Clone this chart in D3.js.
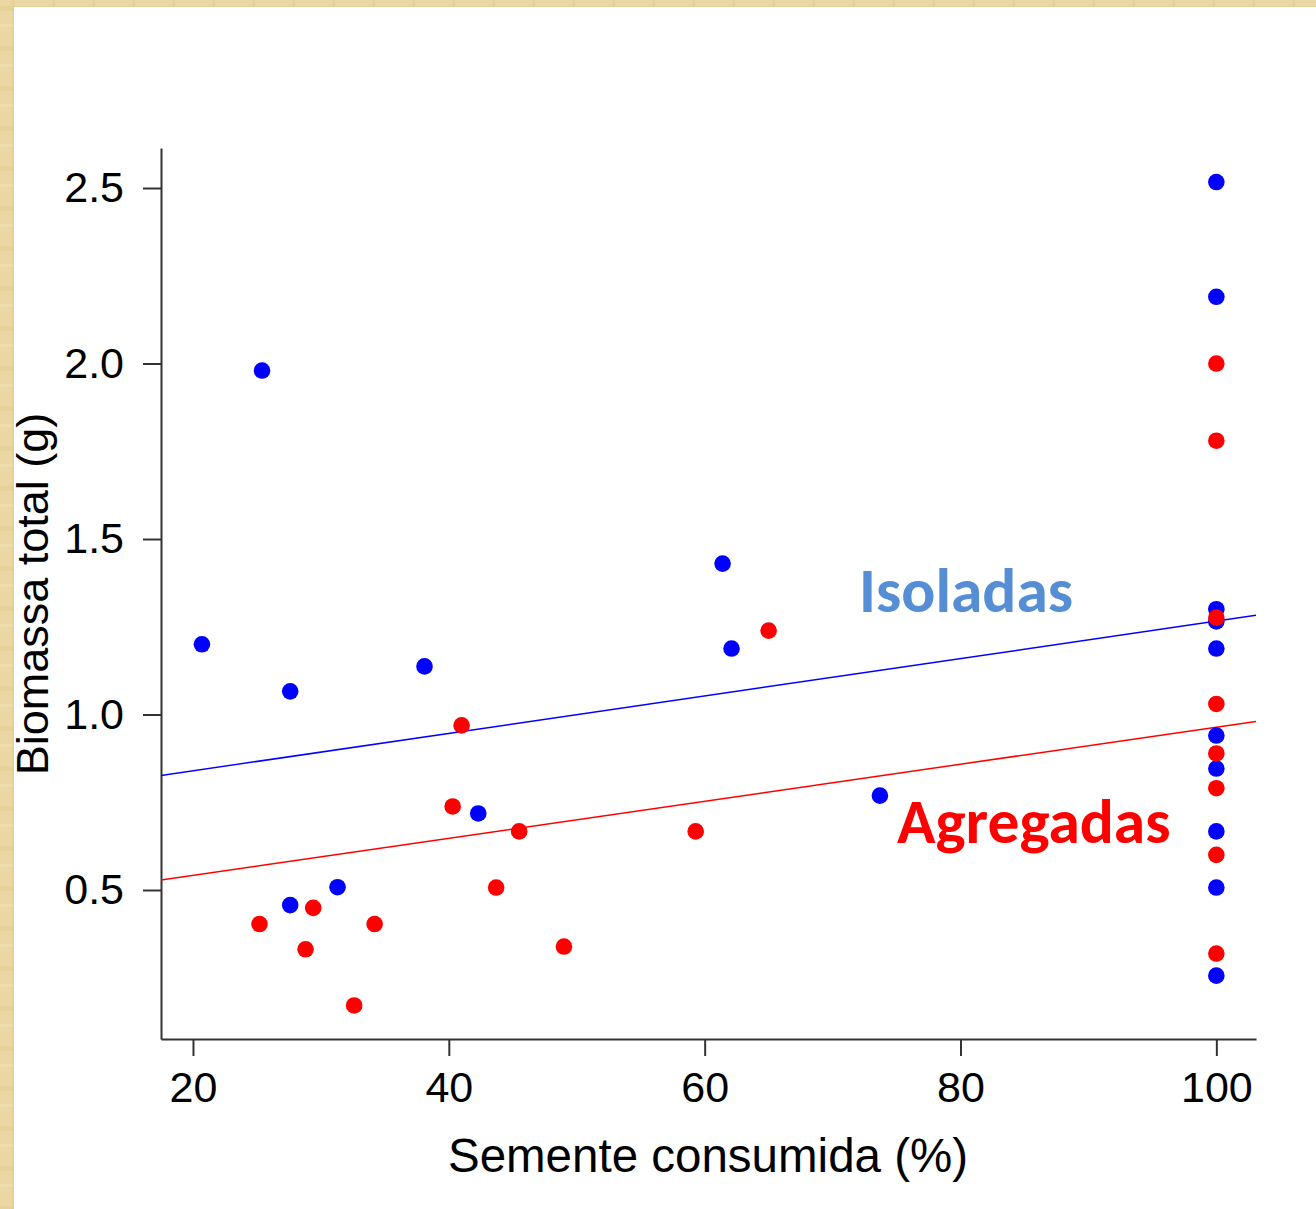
<!DOCTYPE html>
<html>
<head>
<meta charset="utf-8">
<script src="https://cdn.jsdelivr.net/npm/d3@7"></script>
<style>
  html, body { margin: 0; padding: 0; background: #e9d6a2; }
  svg { display: block; }
</style>
</head>
<body>
<svg id="chart" width="1316" height="1209"></svg>
<script>
// ---- Data ----
const isoladasX = [25.4, 20.7, 27.6, 38.1, 27.6, 31.3, 42.3, 61.4, 62.1, 73.7,
                   100, 100, 100, 100, 100, 100, 100, 100, 100, 100];
const isoladasY = [1.98, 1.20, 1.066, 1.137, 0.457, 0.508, 0.718, 1.43, 1.188, 0.769,
                   2.517, 2.19, 1.30, 1.265, 1.188, 0.94, 0.846, 0.667, 0.507, 0.256];
const agregadasX = [25.2, 28.8, 29.4, 32.6, 34.2, 40.3, 41.0, 43.7, 45.5, 49.0, 59.3, 65.0,
                    100, 100, 100, 100, 100, 100, 100, 100];
const agregadasY = [0.403, 0.331, 0.449, 0.171, 0.403, 0.738, 0.969, 0.507, 0.667, 0.339, 0.667, 1.239,
                    2.0, 1.78, 1.276, 1.03, 0.889, 0.79, 0.60, 0.319];
// regression lines: [intercept, slope]
const isoladasFit = [0.733, 0.00533];
const agregadasFit = [0.436, 0.00528];
const xTicks = [20, 40, 60, 80, 100];
const yTicks = [0.5, 1.0, 1.5, 2.0, 2.5];
const xTitle = "Semente consumida (%)";
const yTitle = "Biomassa total (g)";
const labelIsoladas = "Isoladas";
const labelAgregadas = "Agregadas";

(function () {
// ---- Layout ----
const svg = d3.select("#chart");
const W = 1316, H = 1209;
const mLeft = 161, mRight = 1256, mTop = 148, mBottom = 1039;

// parchment background + white panel
const defs = svg.append("defs");
const pat = defs.append("pattern").attr("id", "parch").attr("patternUnits", "userSpaceOnUse")
  .attr("width", 40).attr("height", 40);
pat.append("rect").attr("width", 40).attr("height", 40).attr("fill", "#ead7a3");
pat.append("rect").attr("x", 0).attr("y", 6).attr("width", 40).attr("height", 5).attr("fill", "#e3cd92").attr("opacity", 0.6);
pat.append("rect").attr("x", 0).attr("y", 24).attr("width", 40).attr("height", 3).attr("fill", "#f0e0b2").attr("opacity", 0.7);
pat.append("rect").attr("x", 12).attr("y", 0).attr("width", 3).attr("height", 40).attr("fill", "#e0c98f").attr("opacity", 0.4);
svg.append("rect").attr("width", W).attr("height", H).attr("fill", "url(#parch)");
svg.append("rect").attr("x", 14).attr("y", 7).attr("width", W - 14).attr("height", H - 7).attr("fill", "#ffffff");

const x = d3.scaleLinear().domain([17.5, 103.1]).range([mLeft, mRight]);
const y = d3.scaleLinear().domain([0.0755, 2.614]).range([mBottom, mTop]);

defs.append("clipPath").attr("id", "plotclip").append("rect")
  .attr("x", mLeft).attr("y", mTop).attr("width", mRight - mLeft).attr("height", mBottom - mTop);

// ---- Axes ----
const axisColor = "#333";
const font = "'Liberation Sans', Arial, sans-serif";

const xAxis = svg.append("g").attr("transform", `translate(0,${mBottom})`)
  .call(d3.axisBottom(x).tickValues(xTicks).tickSize(17).tickSizeOuter(0).tickPadding(15).tickFormat(d3.format("d")));
const yAxis = svg.append("g").attr("transform", `translate(${mLeft},0)`)
  .call(d3.axisLeft(y).tickValues(yTicks).tickSize(18).tickSizeOuter(0).tickPadding(19).tickFormat(d3.format(".1f")));

[xAxis, yAxis].forEach(g => {
  g.select(".domain").attr("stroke", axisColor).attr("stroke-width", 2);
  g.selectAll(".tick line").attr("stroke", axisColor).attr("stroke-width", 2);
  g.selectAll(".tick text").attr("fill", "#000").attr("font-family", font).attr("font-size", 43);
});

svg.append("text").attr("x", 708).attr("y", 1172)
  .attr("text-anchor", "middle").attr("font-family", font).attr("font-size", 47.5)
  .attr("fill", "#000").text(xTitle);
svg.append("text").attr("transform", `translate(48,594) rotate(-90)`)
  .attr("text-anchor", "middle").attr("font-family", font).attr("font-size", 45)
  .attr("fill", "#000").text(yTitle);

// ---- Regression lines ----
const plot = svg.append("g").attr("clip-path", "url(#plotclip)");
const xd = x.domain();
[[isoladasFit, "#0000ff"], [agregadasFit, "#ff0000"]].forEach(([fit, col]) => {
  plot.append("line")
    .attr("x1", x(xd[0])).attr("y1", y(fit[0] + fit[1] * xd[0]))
    .attr("x2", x(xd[1])).attr("y2", y(fit[0] + fit[1] * xd[1]))
    .attr("stroke", col).attr("stroke-width", 1.5);
});

// ---- Points ----
const iso = isoladasX.map((v, i) => ({ x: v, y: isoladasY[i] }));
const agr = agregadasX.map((v, i) => ({ x: v, y: agregadasY[i] }));
svg.append("g").selectAll("circle").data(iso).join("circle")
  .attr("cx", d => x(d.x)).attr("cy", d => y(d.y)).attr("r", 8.3).attr("fill", "#0000ff");
svg.append("g").selectAll("circle").data(agr).join("circle")
  .attr("cx", d => x(d.x)).attr("cy", d => y(d.y)).attr("r", 8.3).attr("fill", "#ff0000");

// ---- Labels ----
const labelFont = "Carlito, Lato, 'Open Sans', sans-serif";
svg.append("text").attr("x", 859).attr("y", 612).attr("font-family", labelFont)
  .attr("font-weight", "bold").attr("font-size", 63.5).attr("fill", "#558ed5").text(labelIsoladas);
svg.append("text").attr("x", 897).attr("y", 843).attr("font-family", labelFont)
  .attr("font-weight", "bold").attr("font-size", 63.5).attr("fill", "#ff0000").text(labelAgregadas);
})();
</script>
</body>
</html>
